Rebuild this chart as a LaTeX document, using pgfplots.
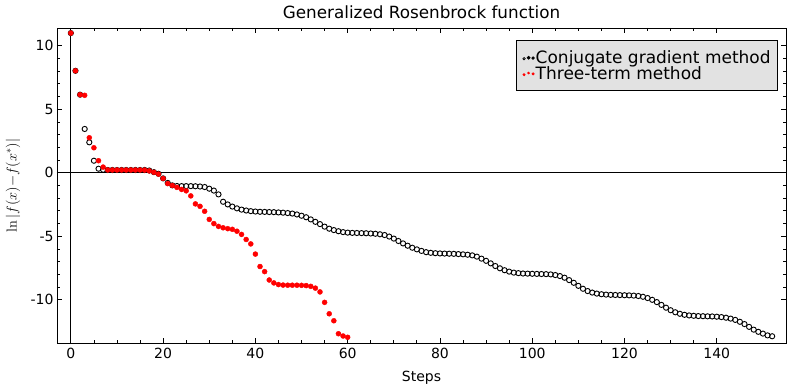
\documentclass[border=0pt]{standalone}
\usepackage{pgfplots}
\usepackage{pgfplotstable}
\pgfplotsset{compat=1.18}
\usepackage[no-math]{fontspec}
\setmainfont{DejaVu Sans}
\definecolor{legfill}{RGB}{226,226,226}

\pgfplotstableread{
x y
0 11.0
1 8.03
2 6.15
3 3.45
4 2.4
5 0.95
6 0.32
7 0.24
8 0.22
9 0.22
10 0.22
11 0.22
12 0.22
13 0.22
14 0.22
15 0.22
16 0.22
17 0.18
18 0.05
19 -0.08
20 -0.44
21 -0.8
22 -0.99
23 -1.04
24 -1.05
25 -1.05
26 -1.05
27 -1.06
28 -1.08
29 -1.12
30 -1.25
31 -1.4
32 -1.7
33 -2.28
34 -2.49
35 -2.66
36 -2.8
37 -2.9
38 -2.97
39 -3.02
40 -3.05
41 -3.07
42 -3.08
43 -3.09
44 -3.1
45 -3.12
46 -3.14
47 -3.17
48 -3.21
49 -3.28
50 -3.38
51 -3.5
52 -3.67
53 -3.86
54 -4.04
55 -4.24
56 -4.4
57 -4.51
58 -4.6
59 -4.67
60 -4.71
61 -4.73
62 -4.74
63 -4.75
64 -4.76
65 -4.78
66 -4.8
67 -4.84
68 -4.9
69 -5.02
70 -5.18
71 -5.37
72 -5.56
73 -5.74
74 -5.9
75 -6.03
76 -6.15
77 -6.25
78 -6.3
79 -6.33
80 -6.35
81 -6.36
82 -6.37
83 -6.38
84 -6.4
85 -6.42
86 -6.45
87 -6.5
88 -6.6
89 -6.76
90 -6.93
91 -7.13
92 -7.34
93 -7.52
94 -7.67
95 -7.78
96 -7.86
97 -7.9
98 -7.93
99 -7.94
100 -7.95
101 -7.96
102 -7.97
103 -7.98
104 -8.0
105 -8.05
106 -8.13
107 -8.26
108 -8.45
109 -8.66
110 -8.9
111 -9.13
112 -9.31
113 -9.43
114 -9.51
115 -9.56
116 -9.59
117 -9.61
118 -9.62
119 -9.63
120 -9.64
121 -9.65
122 -9.67
123 -9.7
124 -9.76
125 -9.86
126 -10.0
127 -10.18
128 -10.4
129 -10.62
130 -10.82
131 -10.98
132 -11.1
133 -11.18
134 -11.23
135 -11.26
136 -11.28
137 -11.29
138 -11.3
139 -11.31
140 -11.33
141 -11.36
142 -11.41
143 -11.48
144 -11.58
145 -11.73
146 -11.91
147 -12.13
148 -12.35
149 -12.52
150 -12.66
151 -12.8
152 -12.87
}\cgdata

\pgfplotstableread{
x y
0 11.0
1 8.03
2 6.15
3 6.1
4 2.76
5 1.97
6 0.95
7 0.45
8 0.22
9 0.22
10 0.22
11 0.22
12 0.22
13 0.22
14 0.22
15 0.22
16 0.21
17 0.15
18 0.04
19 -0.1
20 -0.45
21 -0.85
22 -1.0
23 -1.15
24 -1.31
25 -1.42
26 -1.82
27 -2.45
28 -2.64
29 -3.03
30 -3.67
31 -4.0
32 -4.22
33 -4.33
34 -4.4
35 -4.45
36 -4.6
37 -4.85
38 -5.25
39 -5.6
40 -6.4
41 -7.38
42 -7.78
43 -8.44
44 -8.67
45 -8.8
46 -8.84
47 -8.85
48 -8.85
49 -8.85
50 -8.86
51 -8.88
52 -8.94
53 -9.08
54 -9.38
55 -10.2
56 -11.1
57 -11.65
58 -12.67
59 -12.85
60 -12.95
}\ttdata

\begin{document}
\begin{tikzpicture}
\begin{axis}[
  name=ax,
  scale only axis,
  width=729pt, height=315pt,
  xmin=-3, xmax=155,
  ymin=-13.4, ymax=11.4,
  axis line style={black, line width=0.9pt},
  tick align=inside,
  xtick pos=both, ytick pos=both,
  xtick={0,20,40,60,80,100,120,140},
  ytick={-10,-5,0,5,10},
  yticklabels={-10,-5,0,5,10},
  minor x tick num=3,
  minor y tick num=4,
  major tick length=5pt,
  minor tick length=2.6pt,
  tick style={black, line width=0.8pt},
  /pgf/number format/assume math mode=true,
  tick label style={font=\fontsize{14}{16}\selectfont},
  xticklabel style={yshift=-2pt},
  title={Generalized Rosenbrock function},
  title style={at={(axis description cs:0.5,1)}, anchor=center, yshift=9.5pt, font=\fontsize{16.8}{19}\selectfont},
  xlabel={Steps},
  xlabel style={at={(axis description cs:0.5,0)}, anchor=center, yshift=-34.5pt, font=\fontsize{14}{16}\selectfont},
  ylabel={$\ln|f(x){-}f(x^*)|$},
  ylabel style={at={(axis description cs:-0.0604,0.5)}, anchor=center, font=\fontsize{14}{16}\selectfont},
  legend style={at={(1,1)}, anchor=north east, xshift=-8pt, yshift=-12.5pt,
    draw=black, line width=0.7pt, fill=legfill,
    font=\fontsize{17}{19}\selectfont,
    inner xsep=6pt, inner ysep=9.5pt, row sep=0pt,
    cells={anchor=west},
    nodes={inner ysep=0.5pt, inner xsep=1pt}},
]
\addplot[black, line width=0.8pt, forget plot] coordinates {(-3,0) (155,0)};
\addplot[black, line width=0.8pt, forget plot] coordinates {(0,-13.4) (0,11.4)};
\addplot[only marks, mark=o, mark size=2.6pt, black, mark options={line width=0.9pt},
  legend image code/.code={
    \draw[black, line width=0.7pt] (0.5pt,-0.6pt) circle (1.2pt);
    \fill[black] (5pt,0.3pt) circle (1.5pt);
    \fill[black] (9.5pt,0pt) circle (1.3pt);
  }] table[x=x, y=y] {\cgdata};
\addlegendentry{Conjugate gradient method}
\addplot[only marks, mark=*, mark size=2.5pt, red, mark options={draw=none, fill=red},
  legend image code/.code={
    \fill[red] (0.5pt,-1.2pt) circle (1.1pt);
    \fill[red] (5pt,0.4pt) circle (0.9pt);
    \fill[red] (9.5pt,-0.4pt) circle (1.1pt);
  }] table[x=x, y=y] {\ttdata};
\addlegendentry{Three-term method}
\end{axis}
\pgfresetboundingbox
\path[use as bounding box] ([xshift=-57pt,yshift=-41pt]ax.south west) rectangle ([xshift=1pt,yshift=28pt]ax.north east);
\end{tikzpicture}
\end{document}
